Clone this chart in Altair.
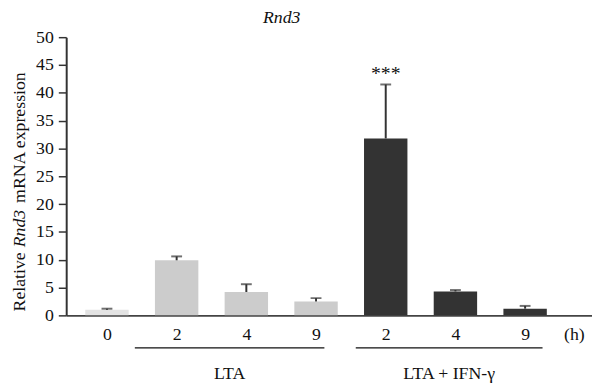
import altair as alt
import pandas as pd

# ---- data ----
labels = ["0", "2", "4", "9", "2", "4", "9"]
groups = ["ctrl", "LTA", "LTA", "LTA", "IFN", "IFN", "IFN"]
means = [1.0, 9.9, 4.2, 2.5, 31.8, 4.3, 1.2]
err_top = [1.2, 10.6, 5.6, 3.1, 41.5, 4.55, 1.7]
signif = ["", "", "", "", "***", "", ""]
colors = ["#e3e3e3", "#cccccc", "#cccccc", "#cccccc", "#333333", "#333333", "#333333"]

group_labels = ["LTA", "LTA + IFN-\u03b3"]
group_start = [0.4, 3.57]
group_end = [3.12, 6.25]
group_center = [1.76, 4.91]

df = pd.DataFrame({
    "pos": list(range(len(labels))),
    "label": labels,
    "mean": means,
    "top": err_top,
    "sig": signif,
    "color": colors,
})
gdf = pd.DataFrame({"g": group_labels, "s": group_start, "e": group_end, "c": group_center})

FONT = "Liberation Serif"
tick_vals = list(range(len(labels))) + [6.7]
tick_text = labels + ["(h)"]
label_expr = "[" + ",".join("'%s'" % t for t in tick_text) + "][indexof(" + \
    "[" + ",".join(str(v) for v in tick_vals) + "], datum.value)]"

xscale = alt.Scale(domain=[-0.514, 6.889], nice=False, zero=False)
yscale = alt.Scale(domain=[0, 50], nice=False)

x_axis = alt.Axis(values=tick_vals, labelExpr=label_expr, title=None,
                  grid=False, ticks=False, domainColor="#444444",
                  domainWidth=2, labelFont=FONT, labelFontSize=18,
                  labelColor="#111111", labelPadding=10, labelFlush=False,
                  labelOverlap=False)
y_axis = alt.Axis(values=list(range(0, 51, 5)), title=None, grid=False,
                  tickSize=8, tickColor="#333333", tickWidth=1.5,
                  domainColor="#333333", domainWidth=2,
                  labelFont=FONT, labelFontSize=18, labelColor="#111111",
                  labelPadding=5, labelOverlap=False)

base = alt.Chart(df)

bars = base.mark_bar(size=44).encode(
    x=alt.X("pos:Q", scale=xscale, axis=x_axis),
    y=alt.Y("mean:Q", scale=yscale, axis=y_axis),
    color=alt.Color("color:N", scale=None),
)
err = base.mark_rule(color="#333333", strokeWidth=2).encode(
    x=alt.X("pos:Q", scale=xscale, axis=x_axis),
    y=alt.Y("mean:Q", scale=yscale, axis=y_axis),
    y2="top:Q",
)
caps = base.mark_tick(orient="horizontal", size=11, thickness=2, color="#333333").encode(
    x=alt.X("pos:Q", scale=xscale, axis=x_axis),
    y=alt.Y("top:Q", scale=yscale, axis=y_axis),
)
stars = base.mark_text(font=FONT, fontSize=20, baseline="bottom", dy=-1, color="#111111").encode(
    x=alt.X("pos:Q", scale=xscale, axis=x_axis),
    y=alt.Y("top:Q", scale=yscale, axis=y_axis),
    text="sig:N",
)

glines = alt.Chart(gdf).mark_rule(color="#111111", strokeWidth=1.2).encode(
    x=alt.X("s:Q", scale=xscale, axis=x_axis), x2="e:Q", y=alt.value(315)
)
gtext = alt.Chart(gdf).mark_text(font=FONT, fontSize=18, color="#111111", baseline="middle").encode(
    x=alt.X("c:Q", scale=xscale, axis=x_axis), text="g:N", y=alt.value(341)
)

ytitle_parts = ["Relative", "Rnd3", "mRNA expression"]
ytitle_y = [278, 213, 168]
ytitle_style = ["normal", "italic", "normal"]
yt_layers = []
for t, yy, st in zip(ytitle_parts, ytitle_y, ytitle_style):
    yt_layers.append(
        alt.Chart(pd.DataFrame({"t": [t]})).mark_text(
            font=FONT, fontSize=18, fontStyle=st, angle=270, align="left",
            baseline="middle", color="#111111"
        ).encode(text="t:N", x=alt.value(-47), y=alt.value(yy))
    )

chart = alt.layer(bars, err, caps, stars, glines, gtext, *yt_layers).properties(
    width=533, height=282,
    padding={"left": 59, "top": 27, "right": 0, "bottom": 68},
    autosize="none",
    title=alt.Title("Rnd3", font=FONT, fontSize=18, fontStyle="italic",
                    fontWeight="normal", color="#111111", dx=-48, offset=1),
).configure_view(stroke=None)

chart.save("out.html", embed_options={"renderer": "svg", "actions": False})
